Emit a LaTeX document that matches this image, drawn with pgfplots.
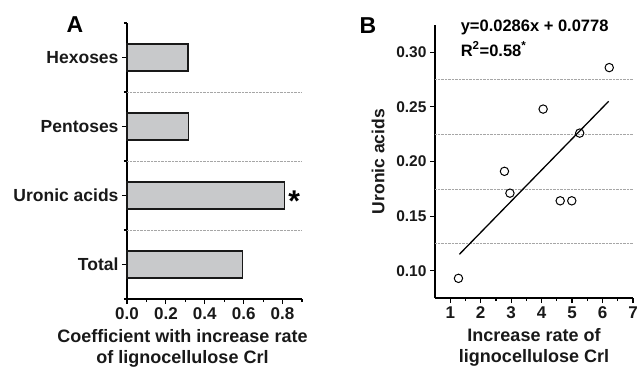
\documentclass[border=0pt]{standalone}
\usepackage{fontspec}
\setmainfont{Liberation Sans}
\usepackage{pgfplots}
\pgfplotsset{compat=1.18}
\definecolor{barfill}{RGB}{200,201,203}
\begin{document}
\begin{tikzpicture}
\path[use as bounding box] (0pt,0pt) rectangle (639pt,372pt);
\pgfplotsset{
 every axis/.append style={
  scale only axis, axis lines=left, axis line style={line width=1.5pt, -},
  tick style={line width=1.2pt, black}, tick align=outside,
  major tick length=5pt, minor tick length=3pt,
  tick label style={font=\fontsize{17}{19}\selectfont\bfseries, text=black!90},
  label style={font=\fontsize{18}{21}\selectfont\bfseries, align=center, text=black!90},
  /pgf/number format/assume math mode=true,
  clip=false,
 }
}
% Panel A
\begin{axis}[at={(127pt,73pt)}, anchor=south west, width=175pt, height=276pt,
 xmin=0, xmax=0.9, ymin=0, ymax=4,
 xtick={0,0.2,0.4,0.6,0.8}, minor xtick={0.1,0.3,0.5,0.7,0.9},
 xticklabel style={/pgf/number format/.cd, fixed, fixed zerofill, precision=1},
 ytick={0.5,1.5,2.5,3.5}, yticklabels={Total, Uronic acids, Pentoses, Hexoses},
 yticklabel style={font=\fontsize{17.5}{19}\selectfont\bfseries},
 ytick align=center,
 minor ytick={0,1,2,3,4},
 extra y ticks={1,2,3}, extra y tick labels={},
 extra y tick style={grid=major, major tick length=0pt, major grid style={densely dotted, gray!70, line width=0.6pt}},
 xlabel={Coefficient with increase rate\\of lignocellulose Crl},
 xlabel style={xshift=-32pt, yshift=-3pt},
 xbar, bar width=27pt,
]
\addplot[fill=barfill, draw=black!90, line width=1.3pt] coordinates {(0.595,0.5) (0.81,1.5) (0.317,2.5) (0.313,3.5)};
\node[font=\fontsize{30}{30}\selectfont\bfseries] at (axis cs:0.86,1.42) {*};
\end{axis}
% Panel B
\begin{axis}[at={(435pt,74pt)}, anchor=south west, width=198pt, height=273pt,
 xmin=0.5, xmax=7, ymin=0.075, ymax=0.325,
 xtick={1,2,3,4,5,6,7}, minor xtick={1.5,2.5,3.5,4.5,5.5,6.5},
 ytick={0.10,0.15,0.20,0.25,0.30},
 yticklabel style={font=\fontsize{15.5}{18}\selectfont\bfseries, /pgf/number format/.cd, fixed, fixed zerofill, precision=2},
 extra y ticks={0.125,0.175,0.225,0.275}, extra y tick labels={},
 extra y tick style={grid=major, major tick length=0pt, major grid style={densely dotted, gray!70, line width=0.6pt}},
 xlabel={Increase rate of\\lignocellulose Crl},
 xlabel style={yshift=-3pt},
 ylabel={Uronic acids},
 ylabel style={font=\fontsize{17.5}{21}\selectfont\bfseries},
]
\addplot[black, line width=1.3pt, no marks] coordinates {(1.3,0.1150) (6.2,0.2551)};
\addplot[only marks, mark=o, mark size=4.2pt, mark options={fill=white, line width=1pt, draw=black}] coordinates {
(1.27,0.093) (2.78,0.191) (2.96,0.171) (4.05,0.248) (4.61,0.164) (4.99,0.164) (5.25,0.226) (6.22,0.286)};
\node[anchor=base west, font=\fontsize{16.5}{19}\selectfont\bfseries] at (axis cs:1.23,0.3195) {y=0.0286x + 0.0778};
\node[anchor=base west, font=\fontsize{16.5}{19}\selectfont\bfseries] at (axis cs:1.23,0.2965) {R\textsuperscript{2}=0.58\textsuperscript{*}};
\end{axis}
\node[font=\fontsize{23}{23}\selectfont\bfseries] at (75pt,347pt) {A};
\node[font=\fontsize{23}{23}\selectfont\bfseries] at (368pt,346pt) {B};
\end{tikzpicture}
\end{document}
